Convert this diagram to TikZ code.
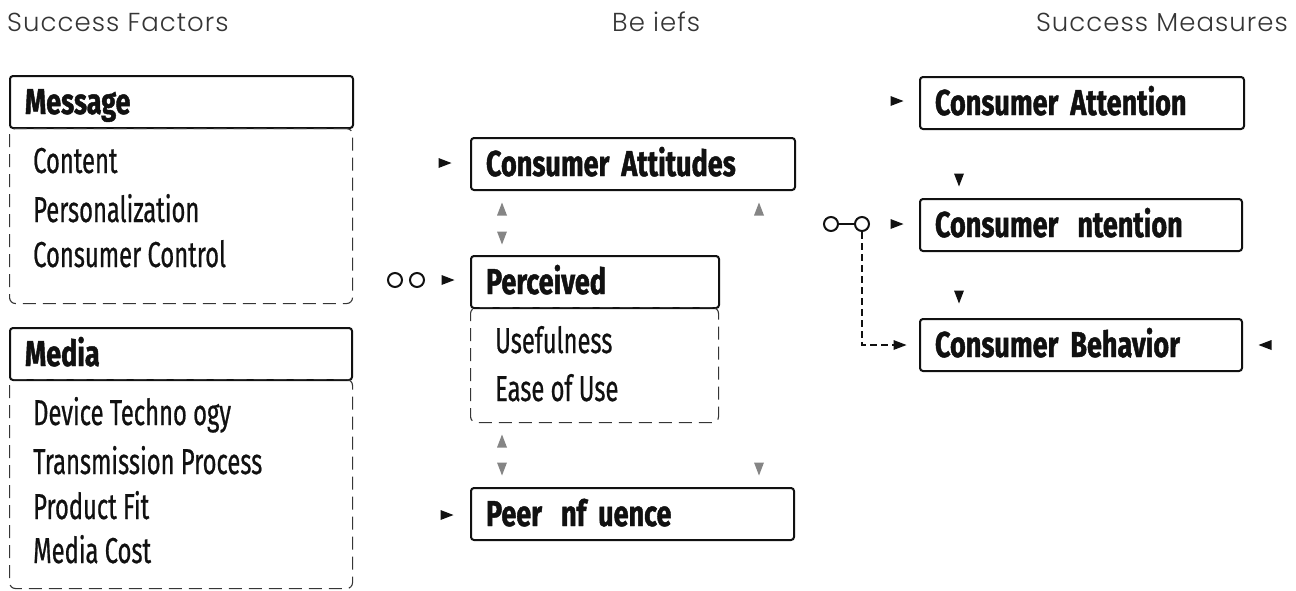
\documentclass[tikz,border=0pt]{standalone}
\usepackage{fontspec}
\newfontfamily\boxfont[FakeStretch=0.75, BoldFeatures={FakeBold=1.2}]{Fira Sans}
\newfontfamily\itemfont[FakeStretch=0.66, FakeBold=0.6]{Fira Sans}
\newfontfamily\headfont[LetterSpace=4]{Poppins Light}
\definecolor{ink}{HTML}{111111}
\definecolor{tgray}{HTML}{858585}
\begin{document}
\begin{tikzpicture}[x=1pt,y=-1pt,
  hbox/.style={draw=ink, line width=2pt, rounded corners=3pt, anchor=north west,
    minimum height=52pt, inner xsep=15pt, inner ysep=0pt, align=left,
    text height=27pt, text depth=3pt, font=\boxfont\bfseries\fontsize{36}{40}\selectfont, text=ink},
  body/.style={draw=ink!85, line width=1.1pt, dash pattern=on 13pt off 7pt, rounded corners=6pt,
    anchor=north west, inner sep=0pt},
  item/.style={anchor=base west, inner sep=0pt, font=\itemfont\fontsize{36}{40}\selectfont, text=ink},
  head/.style={anchor=base west, inner sep=0pt, font=\headfont\fontsize{26}{30}\selectfont, text=ink!85},
  ring/.style={circle, draw=ink, line width=2pt, minimum size=14pt, inner sep=0pt},
  tri/.pic={\fill (-6.5,-5) -- (6.5,0) -- (-6.5,5) -- cycle;},
  blk/.style={fill=ink}, gry/.style={fill=tgray}
]
\useasboundingbox (0,0) rectangle (1296,590);

% headings
\node[head] (hF) at (7,31) {Success Factors};
\node[head] (hB) at (612,31) {Be iefs};
\node[head, anchor=base east] (hM) at (1288,31) {Success Measures};

% Message
\node[hbox, minimum width=343pt, text width=313pt] (msg) at (9,75) {Message};
\node[body, minimum width=343pt, minimum height=175pt] (msgb) at (9,128) {};
\node[item] (i1) at (33,173) {Content};
\node[item] (i2) at (33,222) {Personalization};
\node[item] (i3) at (33,267) {Consumer Control};

% Media
\node[hbox, minimum width=342pt, text width=312pt] (med) at (9,327) {Media};
\node[body, minimum width=343pt, minimum height=209pt] (medb) at (9,379) {};
\node[item] (j1) at (33,425) {Device Techno ogy};
\node[item] (j2) at (33,474) {Transmission Process};
\node[item] (j3) at (33,519) {Product Fit};
\node[item] (j4) at (33,563) {Media Cost};

% Beliefs
\node[hbox, minimum width=324pt, text width=294pt] (att) at (470,137) {Consumer Attitudes};
\node[hbox, minimum width=248pt, text width=218pt] (per) at (470,255) {Perceived};
\node[body, minimum width=248pt, minimum height=115pt] (perb) at (470,307) {};
\node[item] (k1) at (495,353) {Usefulness};
\node[item] (k2) at (495,401) {Ease of Use};
\node[hbox, minimum width=323pt, text width=293pt] (peer) at (470,487) {Peer\hspace{19pt}nf uence};

% Success measures
\node[hbox, minimum width=324pt, text width=294pt] (cat) at (919,76) {Consumer Attention};
\node[hbox, minimum width=322pt, text width=292pt] (cin) at (919,198) {Consumer\hspace{19pt}ntention};
\node[hbox, minimum width=322pt, text width=292pt] (cbe) at (919,318) {Consumer Behavior};

% arrowheads
\pic[blk] at (445,163) {tri};
\pic[gry, rotate=90] at (502,209) {tri};
\pic[gry, rotate=90] at (759,209) {tri};
\pic[gry, rotate=-90] at (502,238) {tri};
\pic[blk] at (448,280) {tri};
\pic[gry, rotate=90] at (502,441) {tri};
\pic[gry, rotate=-90] at (502,469) {tri};
\pic[gry, rotate=-90] at (759,469) {tri};
\pic[blk] at (447,515) {tri};
\pic[blk] at (897,101) {tri};
\pic[blk, rotate=-90] at (959,180) {tri};
\pic[blk] at (897,224) {tri};
\pic[blk, rotate=-90] at (959,297) {tri};
\pic[blk, rotate=180] at (1265,345) {tri};

% rings
\node[ring] (o1) at (395,280) {};
\node[ring] (o2) at (417,280) {};
\node[ring] (o3) at (831,224) {};
\node[ring] (o4) at (862,224) {};
\coordinate (dend) at (897,345);
\draw[ink, line width=2pt] (o3) -- (o4);
\draw[ink, line width=2.6pt, dash pattern=on 7pt off 4pt] (o4.south) |- (dend);
\pic[blk] at (900,345) {tri};
\end{tikzpicture}
\end{document}
